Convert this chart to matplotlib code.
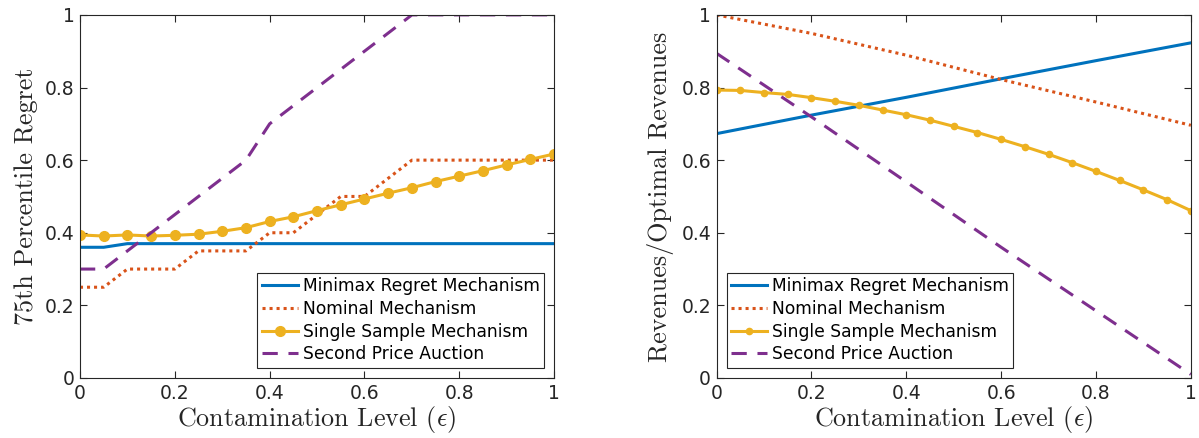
import numpy as np
import matplotlib
matplotlib.use("Agg")
import matplotlib.pyplot as plt

# contamination levels
eps = [0.0, 0.05, 0.1, 0.15, 0.2, 0.25, 0.3, 0.35, 0.4, 0.45, 0.5,
       0.55, 0.6, 0.65, 0.7, 0.75, 0.8, 0.85, 0.9, 0.95, 1.0]

# left panel: 75th percentile regret
regret_minimax = [0.36, 0.36, 0.37, 0.37, 0.37, 0.37, 0.37, 0.37, 0.37, 0.37, 0.37,
                  0.37, 0.37, 0.37, 0.37, 0.37, 0.37, 0.37, 0.37, 0.37, 0.37]
regret_nominal = [0.25, 0.25, 0.3, 0.3, 0.3, 0.35, 0.35, 0.35, 0.4, 0.4, 0.45,
                  0.5, 0.5, 0.55, 0.6, 0.6, 0.6, 0.6, 0.6, 0.6, 0.6]
regret_single = [0.394, 0.391, 0.394, 0.391, 0.393, 0.396, 0.404, 0.414, 0.431, 0.444, 0.461,
                 0.477, 0.493, 0.509, 0.524, 0.541, 0.556, 0.571, 0.587, 0.602, 0.617]
regret_second = [0.3, 0.3, 0.35, 0.4, 0.45, 0.5, 0.55, 0.6, 0.7, 0.75, 0.8,
                 0.85, 0.9, 0.95, 1.0, 1.0, 1.0, 1.0, 1.0, 1.0, 1.0]

# right panel: revenues / optimal revenues
eps_coarse = [0.0, 0.2, 0.4, 0.6, 0.8, 1.0]
rev_minimax = [0.673, 0.724, 0.773, 0.824, 0.874, 0.923]
rev_nominal = [1.0, 0.949, 0.889, 0.822, 0.760, 0.696]
rev_second = [0.894, 0.719, 0.540, 0.360, 0.185, 0.010]
rev_single = [0.793, 0.792, 0.786, 0.781, 0.772, 0.762, 0.751, 0.738, 0.725, 0.710, 0.693,
              0.676, 0.657, 0.637, 0.616, 0.593, 0.569, 0.544, 0.518, 0.491, 0.461]

labels = ["Minimax Regret Mechanism", "Nominal Mechanism",
          "Single Sample Mechanism", "Second Price Auction"]
ticks = [0, 0.2, 0.4, 0.6, 0.8, 1]
tick_labels = ["0", "0.2", "0.4", "0.6", "0.8", "1"]

c_blue, c_red, c_yel, c_pur = "#0072BD", "#D95319", "#EDB120", "#7E2F8E"

plt.rcParams["mathtext.fontset"] = "cm"

fig = plt.figure(figsize=(11.99, 4.38), dpi=100)
ax1 = fig.add_axes([0.0667, 0.137, 0.3955, 0.829])
ax2 = fig.add_axes([0.5977, 0.137, 0.3955, 0.829])

lw = 2.2
ax1.plot(eps, regret_minimax, color=c_blue, lw=lw, label=labels[0])
ax1.plot(eps, regret_nominal, color=c_red, lw=lw, ls=(0, (1, 1.3)), label=labels[1])
ax1.plot(eps, regret_single, color=c_yel, lw=lw, marker="o", ms=7, label=labels[2])
ax1.plot(eps, regret_second, color=c_pur, lw=lw, ls=(0, (5, 3.5)), label=labels[3])

ax2.plot(eps_coarse, rev_minimax, color=c_blue, lw=lw, label=labels[0])
ax2.plot(eps_coarse, rev_nominal, color=c_red, lw=lw, ls=(0, (1, 1.3)), label=labels[1])
ax2.plot(eps, rev_single, color=c_yel, lw=lw, marker="o", ms=4.5, label=labels[2])
ax2.plot(eps_coarse, rev_second, color=c_pur, lw=lw, ls=(0, (5, 3.5)), label=labels[3])

ylabels = ["75th Percentile Regret", "Revenues/Optimal Revenues"]
for ax, yl, loc in [(ax1, ylabels[0], "lower right"), (ax2, ylabels[1], "lower left")]:
    ax.set_xlim(0, 1)
    ax.set_ylim(0, 1)
    ax.set_xticks(ticks)
    ax.set_xticklabels(tick_labels)
    ax.set_yticks(ticks)
    ax.set_yticklabels(tick_labels)
    ax.tick_params(direction="in", top=True, right=True, length=5, width=0.8,
                   labelsize=13.5, colors="#262626", pad=4)
    for s in ax.spines.values():
        s.set_color("#262626")
        s.set_linewidth(0.8)
    ax.set_xlabel(r"Contamination Level ($\epsilon$)", fontfamily="cmr10", fontsize=18.8,
                  color="#262626", labelpad=1)
    ax.set_ylabel(yl, fontfamily="cmr10", fontsize=18.8, color="#262626", labelpad=5)
    leg = ax.legend(loc=loc, fontsize=12.3, fancybox=False, framealpha=1,
                    edgecolor="#262626", borderpad=0.25, labelspacing=0.28,
                    handlelength=2.1, handletextpad=0.3, borderaxespad=0.6)
    leg.get_frame().set_linewidth(0.8)

fig.savefig("out.png", dpi=100)
